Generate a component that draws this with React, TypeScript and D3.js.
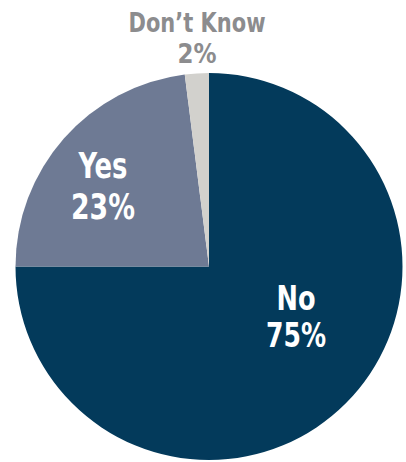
import React from "react";
import * as d3 from "d3";

const categories = ["No", "Yes", "Don\u2019t Know"];
const values = [75, 23, 2];
const colors = ["#033a5b", "#6e7a94", "#d2d1cd"];

const W = 406;
const H = 462;
const CX = 209;
const CY = 266.5;
const R = 193.5;

const labelLayout = [
  { x: 296, y1: 310, y2: 347, l1: 39, l2: 60, fs: 34, fill: "#ffffff" },
  { x: 103, y1: 178, y2: 219, l1: 49, l2: 64, fs: 35, fill: "#ffffff" },
  { x: 197, y1: 32, y2: 63, l1: 137, l2: 39, fs: 26, fill: "#8c8c8e" },
];

export default function App() {
  const pie = d3
    .pie<number>()
    .sort(null)
    .value((d) => d)
    .startAngle(0)
    .endAngle(2 * Math.PI);
  const arcs = pie(values);
  const arc = d3.arc<d3.PieArcDatum<number>>().innerRadius(0).outerRadius(R);
  const font = "'Liberation Sans Narrow', 'DejaVu Sans Condensed', 'Liberation Sans', sans-serif";

  return (
    <svg
      width={W}
      height={H}
      viewBox={`0 0 ${W} ${H}`}
      style={{ position: "absolute", left: 0, top: 0, background: "#fff" }}
    >
      <g transform={`translate(${CX},${CY})`}>
        {arcs.map((a, i) => (
          <path key={i} d={arc(a) || ""} fill={colors[i]} />
        ))}
      </g>
      {arcs.map((a, i) => {
        const L = labelLayout[i];
        return (
          <text
            key={"l" + i}
            fontFamily={font}
            fontWeight="bold"
            fill={L.fill}
            textAnchor="middle"
            fontSize={L.fs}
          >
            <tspan x={L.x} y={L.y1} textLength={L.l1} lengthAdjust="spacingAndGlyphs">
              {categories[i]}
            </tspan>
            <tspan x={L.x} y={L.y2} textLength={L.l2} lengthAdjust="spacingAndGlyphs">
              {`${a.data}%`}
            </tspan>
          </text>
        );
      })}
    </svg>
  );
}
